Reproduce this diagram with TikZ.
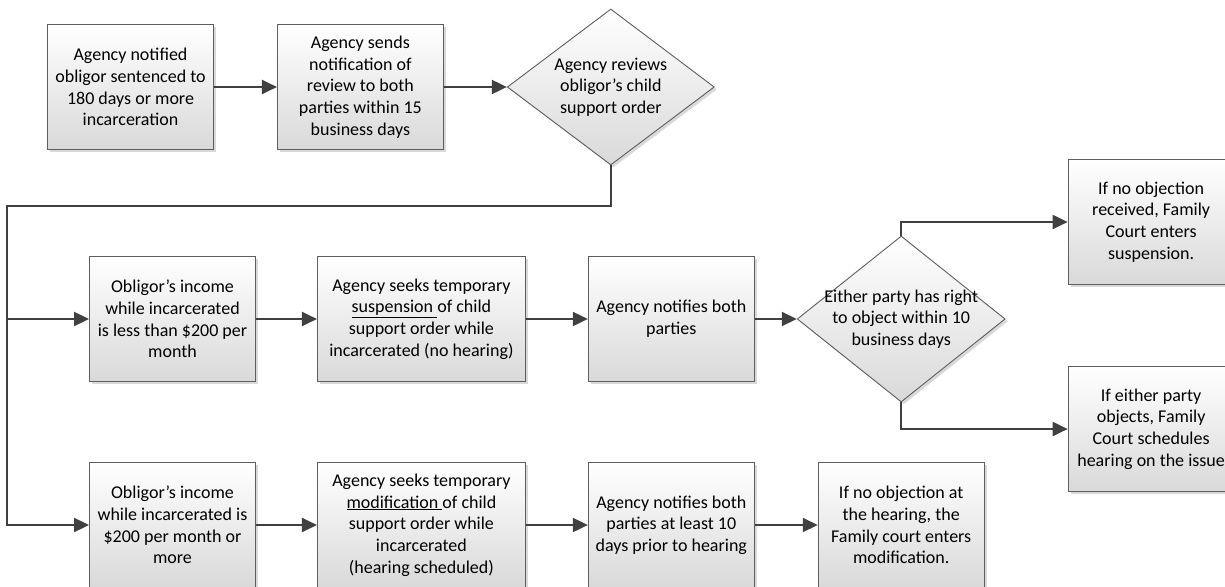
\documentclass[tikz,border=0pt]{standalone}
\usepackage{fontspec}
\setmainfont{Carlito}
\usepackage{xcolor}
\usepackage{tikz}
\usetikzlibrary{arrows.meta,positioning,calc,shapes.geometric,shadows}
\definecolor{boxline}{HTML}{5E5E5E}
\definecolor{connline}{HTML}{404040}
\definecolor{shadebot}{HTML}{D9D9D9}

\begin{document}
\begin{tikzpicture}[x=1pt, y=1pt,
  font=\fontsize{18pt}{21.7pt}\selectfont,
  procbox/.style={draw=boxline, line width=0.9pt, top color=white, bottom color=shadebot, minimum width=166pt, minimum height=125pt, align=center, inner sep=2pt, drop shadow={shadow xshift=2.5pt, shadow yshift=-2.5pt, opacity=0.3}},
  widebox/.style={procbox, minimum width=208pt},
  decision/.style={diamond, draw=boxline, line width=0.9pt, top color=white, bottom color=shadebot, minimum width=207pt, minimum height=156pt, inner sep=0pt, drop shadow={shadow xshift=2.5pt, shadow yshift=-2.5pt, opacity=0.3}},
  dtext/.style={align=center, inner sep=0pt},
  arr/.style={-{Triangle[length=15pt, width=14pt]}, line width=2pt, connline}
]
  \useasboundingbox (0,0) rectangle (1225,-586);

  % top row
  \node[procbox] (notified) at (130.5,-87) {Agency notified\\obligor sentenced to\\180 days or more\\incarceration};
  \node[procbox, right=63pt of notified] (sendnote) {Agency sends\\notification of\\review to both\\parties within 15\\business days};
  \node[decision, right=63pt of sendnote] (review) {};
  \node[dtext] (reviewtxt) at (review) {Agency reviews\\obligor’s child\\support order};

  % income below 200
  \node[procbox] (lowinc) at (172.5,-319) {Obligor’s income\\while incarcerated\\is less than \$200 per\\month};
  \node[widebox, right=61pt of lowinc] (suspend) {Agency seeks temporary\\\underline{suspension\ }of child\\support order while\\incarcerated (no hearing)};
  \node[procbox, right=62pt of suspend] (notify) {Agency notifies both\\parties};
  \node[decision, minimum width=208pt, minimum height=166pt, right=42pt of notify] (objright) {};
  \node[dtext] (objrighttxt) at (objright) {Either party has right\\to object within 10\\business days};
  \node[procbox, anchor=west] (nosusp) at ($(objright.east)+(62,97)$) {If no objection\\received, Family\\Court enters\\suspension.};
  \node[procbox, anchor=west] (hearing) at ($(objright.east)+(62,-110)$) {If either party\\objects, Family\\Court schedules\\hearing on the issue};

  % income 200 or more
  \node[procbox] (highinc) at (172.5,-525) {Obligor’s income\\while incarcerated is\\\$200 per month or\\more};
  \node[widebox, right=61pt of highinc] (modify) {Agency seeks temporary\\\underline{modification\ }of child\\support order while\\incarcerated\\(hearing scheduled)};
  \node[procbox, right=62pt of modify] (notifyten) {Agency notifies both\\parties at least 10\\days prior to hearing};
  \node[procbox, right=63pt of notifyten] (nomod) {If no objection at\\the hearing, the\\Family court enters\\modification.};

  \coordinate (rail) at (7,-206);

  \draw[arr] (notified) -- (sendnote);
  \draw[arr] (sendnote) -- (review);
  \draw[arr] (review.south) |- (rail) |- (highinc.west);
  \draw[arr] (rail) |- (lowinc.west);
  \draw[arr] (lowinc) -- (suspend);
  \draw[arr] (suspend) -- (notify);
  \draw[arr] (notify) -- (objright);
  \draw[arr] (objright.north) |- (nosusp.west);
  \draw[arr] (objright.south) |- (hearing.west);
  \draw[arr] (highinc) -- (modify);
  \draw[arr] (modify) -- (notifyten);
  \draw[arr] (notifyten) -- (nomod);
\end{tikzpicture}
\end{document}
